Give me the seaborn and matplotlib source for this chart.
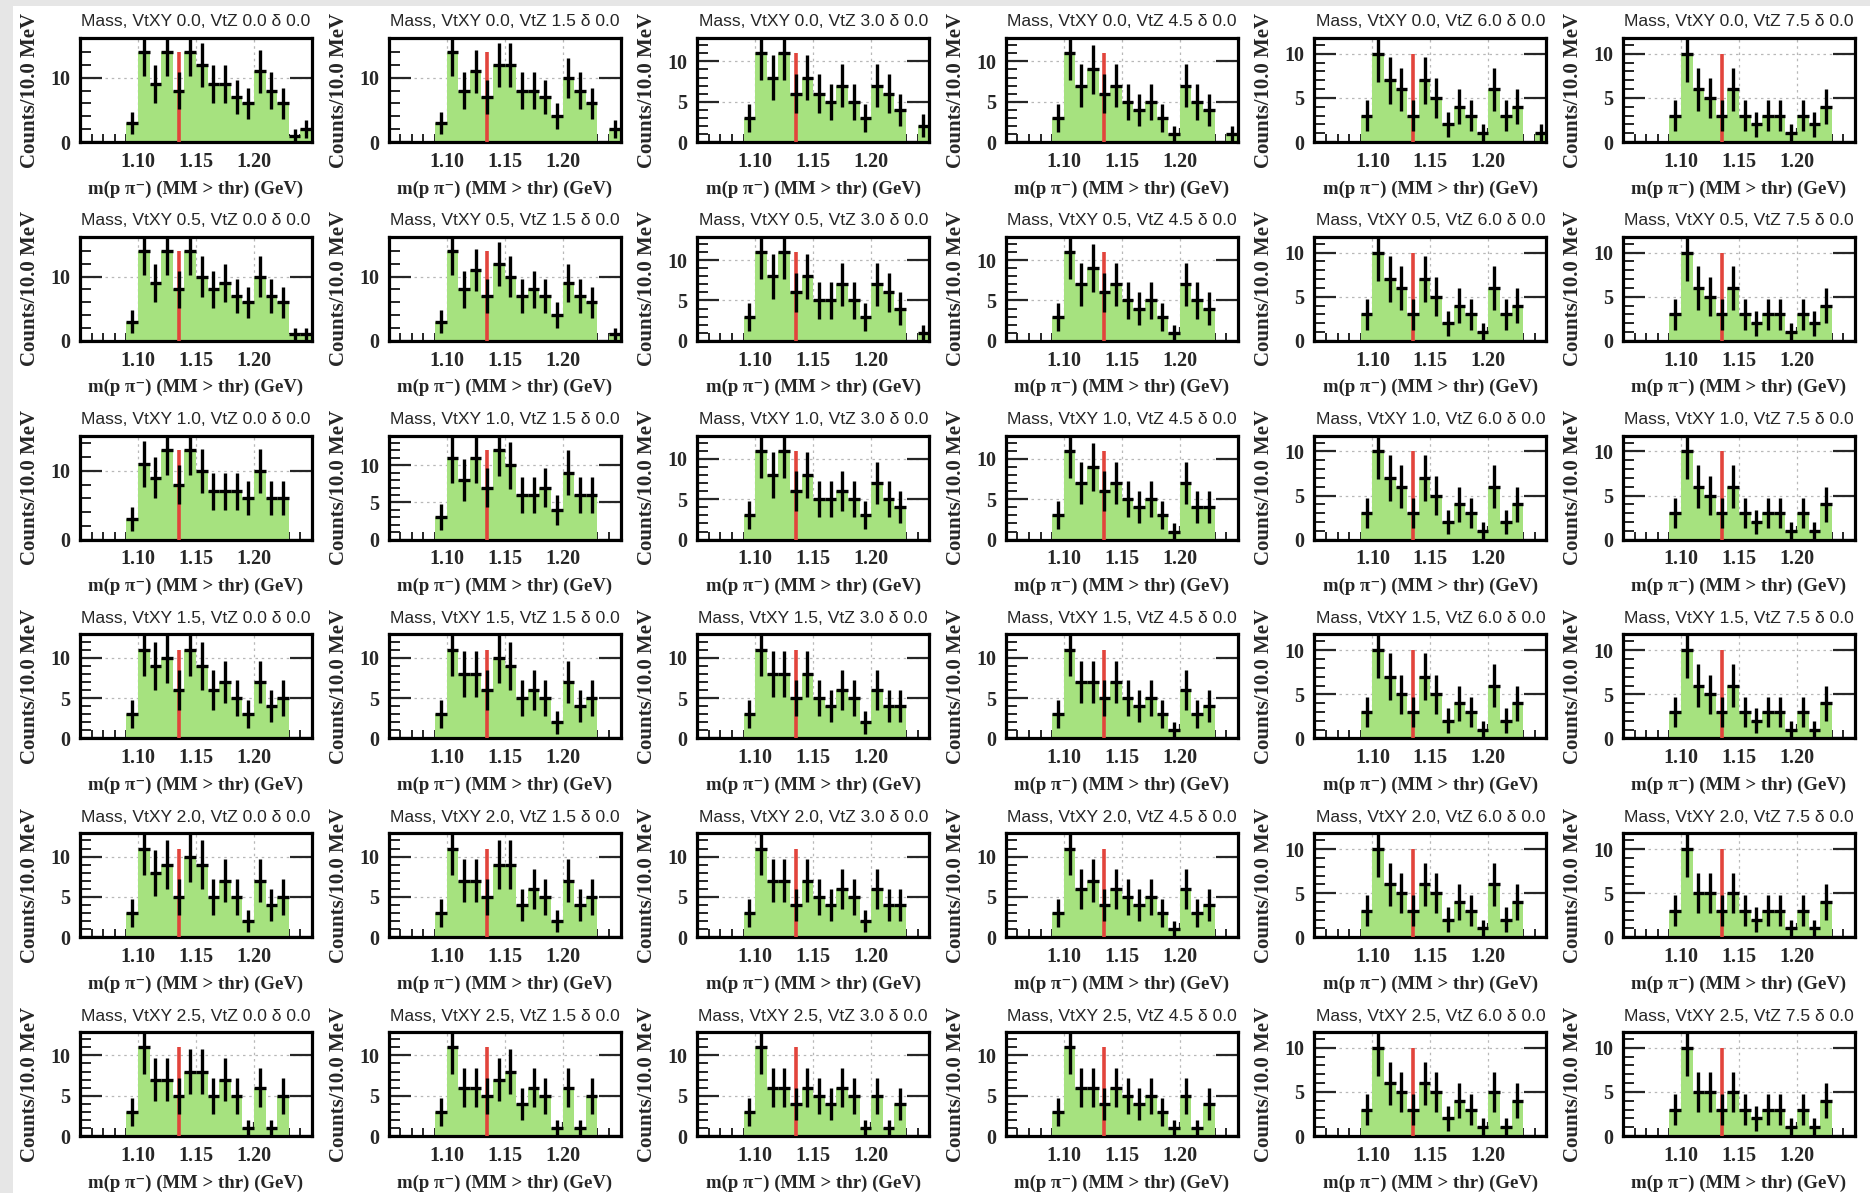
import numpy as np
import pandas as pd
import matplotlib
matplotlib.use("Agg")
import matplotlib.pyplot as plt
from matplotlib import font_manager
from matplotlib.ticker import FixedLocator, MultipleLocator
from matplotlib.patches import Rectangle
import seaborn as sns

# ---- binning / cuts -------------------------------------------------------
mass_edges = np.round(np.linspace(1.05, 1.25, 21), 3)   # 10 MeV bins
vtxy_cuts = [0.0, 0.5, 1.0, 1.5, 2.0, 2.5]
vtz_cuts = [0.0, 1.5, 3.0, 4.5, 6.0, 7.5]
delta_cut = 0.0
lambda_line = 1.135
mass_ticks = [1.10, 1.15, 1.20]

# ---- counts per bin: one list per VtZ cut, grouped by VtXY cut -------------
counts_vtxy_00 = [
    [0, 0, 0, 0, 3, 14, 9, 14, 8, 14, 12, 9, 9, 7, 6, 11, 8, 6, 1, 2],
    [0, 0, 0, 0, 3, 14, 8, 11, 7, 12, 12, 8, 8, 7, 4, 10, 8, 6, 0, 2],
    [0, 0, 0, 0, 3, 11, 8, 11, 6, 8, 6, 5, 7, 5, 3, 7, 6, 4, 0, 2],
    [0, 0, 0, 0, 3, 11, 7, 9, 6, 7, 5, 4, 5, 3, 1, 7, 5, 4, 0, 1],
    [0, 0, 0, 0, 3, 10, 7, 6, 3, 7, 5, 2, 4, 3, 1, 6, 3, 4, 0, 1],
    [0, 0, 0, 0, 3, 10, 6, 5, 3, 6, 3, 2, 3, 3, 1, 3, 2, 4, 0, 0],
]
counts_vtxy_05 = [
    [0, 0, 0, 0, 3, 14, 9, 14, 8, 14, 10, 8, 9, 7, 6, 10, 7, 6, 1, 1],
    [0, 0, 0, 0, 3, 14, 8, 11, 7, 12, 10, 7, 8, 7, 4, 9, 7, 6, 0, 1],
    [0, 0, 0, 0, 3, 11, 8, 11, 6, 8, 5, 5, 7, 5, 3, 7, 6, 4, 0, 1],
    [0, 0, 0, 0, 3, 11, 7, 9, 6, 7, 5, 4, 5, 3, 1, 7, 5, 4, 0, 0],
    [0, 0, 0, 0, 3, 10, 7, 6, 3, 7, 5, 2, 4, 3, 1, 6, 3, 4, 0, 0],
    [0, 0, 0, 0, 3, 10, 6, 5, 3, 6, 3, 2, 3, 3, 1, 3, 2, 4, 0, 0],
]
counts_vtxy_10 = [
    [0, 0, 0, 0, 3, 11, 9, 13, 8, 13, 10, 7, 7, 7, 6, 10, 6, 6, 0, 0],
    [0, 0, 0, 0, 3, 11, 8, 11, 7, 12, 10, 6, 6, 7, 4, 9, 6, 6, 0, 0],
    [0, 0, 0, 0, 3, 11, 8, 11, 6, 8, 5, 5, 6, 5, 3, 7, 5, 4, 0, 0],
    [0, 0, 0, 0, 3, 11, 7, 9, 6, 7, 5, 4, 5, 3, 1, 7, 4, 4, 0, 0],
    [0, 0, 0, 0, 3, 10, 7, 6, 3, 7, 5, 2, 4, 3, 1, 6, 2, 4, 0, 0],
    [0, 0, 0, 0, 3, 10, 6, 5, 3, 6, 3, 2, 3, 3, 1, 3, 1, 4, 0, 0],
]
counts_vtxy_15 = [
    [0, 0, 0, 0, 3, 11, 9, 10, 6, 11, 9, 6, 7, 5, 3, 7, 4, 5, 0, 0],
    [0, 0, 0, 0, 3, 11, 8, 8, 6, 10, 9, 5, 6, 5, 2, 7, 4, 5, 0, 0],
    [0, 0, 0, 0, 3, 11, 8, 8, 5, 8, 5, 4, 6, 5, 2, 6, 4, 4, 0, 0],
    [0, 0, 0, 0, 3, 11, 7, 7, 5, 7, 5, 4, 5, 3, 1, 6, 3, 4, 0, 0],
    [0, 0, 0, 0, 3, 10, 7, 5, 3, 7, 5, 2, 4, 3, 1, 6, 2, 4, 0, 0],
    [0, 0, 0, 0, 3, 10, 6, 5, 3, 6, 3, 2, 3, 3, 1, 3, 1, 4, 0, 0],
]
counts_vtxy_20 = [
    [0, 0, 0, 0, 3, 11, 8, 9, 5, 10, 9, 5, 7, 5, 2, 7, 4, 5, 0, 0],
    [0, 0, 0, 0, 3, 11, 7, 7, 5, 9, 9, 4, 6, 5, 2, 7, 4, 5, 0, 0],
    [0, 0, 0, 0, 3, 11, 7, 7, 4, 7, 5, 4, 6, 5, 2, 6, 4, 4, 0, 0],
    [0, 0, 0, 0, 3, 11, 6, 7, 4, 6, 5, 4, 5, 3, 1, 6, 3, 4, 0, 0],
    [0, 0, 0, 0, 3, 10, 6, 5, 3, 6, 5, 2, 4, 3, 1, 6, 2, 4, 0, 0],
    [0, 0, 0, 0, 3, 10, 5, 5, 3, 5, 3, 2, 3, 3, 1, 3, 1, 4, 0, 0],
]
counts_vtxy_25 = [
    [0, 0, 0, 0, 3, 11, 7, 7, 5, 8, 8, 5, 7, 5, 1, 6, 1, 5, 0, 0],
    [0, 0, 0, 0, 3, 11, 6, 6, 5, 7, 8, 4, 6, 5, 1, 6, 1, 5, 0, 0],
    [0, 0, 0, 0, 3, 11, 6, 6, 4, 6, 5, 4, 6, 5, 1, 5, 1, 4, 0, 0],
    [0, 0, 0, 0, 3, 11, 6, 6, 4, 6, 5, 4, 5, 3, 1, 5, 1, 4, 0, 0],
    [0, 0, 0, 0, 3, 10, 6, 5, 3, 6, 5, 2, 4, 3, 1, 5, 1, 4, 0, 0],
    [0, 0, 0, 0, 3, 10, 5, 5, 3, 5, 3, 2, 3, 3, 1, 3, 1, 4, 0, 0],
]
all_counts = [counts_vtxy_00, counts_vtxy_05, counts_vtxy_10,
              counts_vtxy_15, counts_vtxy_20, counts_vtxy_25]

# ---- style ------------------------------------------------------------------
sns.set_style("white")
fill_green = "#a6e27f"
line_red = "#e2443c"

available = {f.name for f in font_manager.fontManager.ttflist}
if "Liberation Sans Narrow" in available:
    title_font, title_size = ["Liberation Sans Narrow", "DejaVu Sans"], 15.0
else:
    title_font, title_size = ["Liberation Sans", "DejaVu Sans"], 12.6
serif = ["Liberation Serif", "DejaVu Serif"]
plt.rcParams["font.family"] = serif

W, H = 1870, 1193
fig = plt.figure(figsize=(W / 100, H / 100), dpi=100)
fig.patch.set_facecolor("white")

# canvas frame strips (left and top)
fig.add_artist(Rectangle((0, 0), 13 / W, 1, transform=fig.transFigure,
                         facecolor="#e6e6e6", edgecolor="none", zorder=0))
fig.add_artist(Rectangle((0, 1 - 6 / H), 1, 6 / H, transform=fig.transFigure,
                         facecolor="#e6e6e6", edgecolor="none", zorder=0))

centers = 0.5 * (mass_edges[:-1] + mass_edges[1:])
half_bin = 0.5 * (mass_edges[1] - mass_edges[0])

ax_w, ax_h = 232, 104
for r, (vtxy, row_counts) in enumerate(zip(vtxy_cuts, all_counts)):
    for c, (vtz, counts) in enumerate(zip(vtz_cuts, row_counts)):
        left = 80 + 308.6 * c
        top = 38 + 198.8 * r
        ax = fig.add_axes([left / W, 1 - (top + ax_h) / H, ax_w / W, ax_h / H])
        counts = np.asarray(counts, dtype=int)

        # one entry per candidate, binned back into the 10 MeV bins
        events = pd.DataFrame({"mass": np.repeat(centers, counts)})
        sns.histplot(data=events, x="mass", bins=list(mass_edges),
                     element="step", fill=True, color=fill_green, alpha=1.0,
                     linewidth=0, ax=ax)

        nz = counts > 0
        ax.errorbar(centers[nz], counts[nz], xerr=half_bin,
                    yerr=np.sqrt(counts[nz]), fmt="none", ecolor="black",
                    elinewidth=2.4, capsize=0, zorder=4)
        ax.vlines(lambda_line, 0, counts.max(), color=line_red, lw=2.6,
                  zorder=3)

        ymax = 1.1 * counts.max() + 0.8
        ax.set_xlim(mass_edges[0], mass_edges[-1])
        ax.set_ylim(0, ymax)

        ax.set_xticks(mass_ticks)
        ax.set_xticklabels([f"{t:.2f}" for t in mass_ticks])
        ax.xaxis.set_minor_locator(FixedLocator(mass_edges))
        if counts.max() >= 13:
            ax.yaxis.set_major_locator(MultipleLocator(10))
            ax.yaxis.set_minor_locator(MultipleLocator(2))
        else:
            ax.yaxis.set_major_locator(MultipleLocator(5))
            ax.yaxis.set_minor_locator(MultipleLocator(1))

        ax.set_axisbelow(True)
        ax.grid(True, which="major", color="#b8b8b8",
                linestyle=(0, (2, 3)), linewidth=0.9)
        ax.tick_params(axis="x", which="major", direction="in", length=10,
                       width=1.6, pad=7, labelsize=14.5, bottom=True)
        ax.tick_params(axis="x", which="minor", direction="in", length=6,
                       width=1.4, bottom=True)
        ax.tick_params(axis="y", which="major", direction="in", length=16,
                       width=1.6, pad=7, labelsize=14.5, left=True,
                       right=True)
        ax.tick_params(axis="y", which="minor", direction="in", length=8,
                       width=1.4, left=True)
        for lab in ax.get_xticklabels() + ax.get_yticklabels():
            lab.set_fontweight("bold")
            lab.set_family(serif)
        for sp in ax.spines.values():
            sp.set_linewidth(2.3)
            sp.set_color("black")
            sp.set_visible(True)

        ax.set_ylabel("Counts/10.0 MeV", fontsize=15, fontweight="bold",
                      family=serif)
        ax.yaxis.set_label_coords(-50 / ax_w, 0.5)
        ax.set_xlabel("m(p \u03c0\u207b) (MM > thr) (GeV)", fontsize=13.5,
                      fontweight="bold", family=serif)
        ax.xaxis.set_label_coords(0.5, -47 / ax_h)
        ax.xaxis.label.set_va("center")
        ax.yaxis.label.set_va("center")
        ax.text(0.5, 1 + 16 / ax_h,
                f"Mass, VtXY {vtxy:.1f}, VtZ {vtz:.1f} \u03b4 {delta_cut:.1f}",
                transform=ax.transAxes, ha="center", va="center",
                fontsize=title_size, family=title_font)

fig.savefig("out.png", dpi=100, facecolor=fig.get_facecolor())
